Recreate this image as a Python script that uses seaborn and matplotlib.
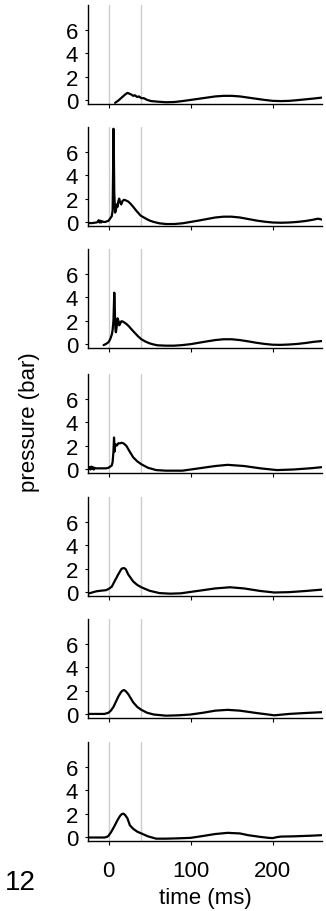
import matplotlib
matplotlib.use("Agg")
import matplotlib.pyplot as plt
import seaborn as sns
import pandas as pd

# ---------------- data ----------------
t1 = [8, 12, 16, 20, 23, 25, 28, 30, 32, 35, 37, 40, 43, 47, 52, 60, 70, 80, 90, 100,
      110, 120, 130, 140, 150, 160, 170, 180, 190, 200, 210, 220, 230, 240, 250, 260]
p1 = [-0.25, -0.05, 0.2, 0.45, 0.6, 0.55, 0.45, 0.35, 0.4, 0.25, 0.3, 0.15, 0.15, 0.0, -0.1, -0.15, -0.2, -0.18, -0.1, 0.0,
      0.1, 0.2, 0.3, 0.35, 0.35, 0.3, 0.2, 0.1, 0.0, -0.08, -0.1, -0.08, -0.02, 0.05, 0.12, 0.2]

t2 = [-25, -20, -15, -13, -12, -11, -10, -9, -8, -6, -4, -2, 0, 2, 4, 5, 5.5, 6, 6.5, 7, 8, 9, 10, 11, 12, 13,
      14, 15.5, 17, 19, 21, 24, 27, 30, 34, 39, 45, 50, 55, 62, 70, 80, 90, 100, 110, 120, 130, 140, 150,
      160, 170, 180, 190, 200, 210, 220, 230, 240, 250, 255, 260]
p2 = [-0.1, -0.1, -0.05, 0.0, 0.15, -0.05, 0.1, -0.05, 0.05, 0.0, 0.0, 0.05, 0.1, 0.3, 0.5, 1.0, 4.0, 8.0, 6.0, 2.5, 0.8, 1.0, 1.5, 1.3, 1.8, 2.0,
      1.7, 1.5, 1.8, 1.9, 1.85, 1.75, 1.55, 1.3, 0.95, 0.55, 0.3, 0.12, 0.0, -0.12, -0.18, -0.18, -0.12, 0.0, 0.12, 0.25, 0.38, 0.45, 0.45,
      0.38, 0.25, 0.12, 0.02, -0.05, -0.07, -0.05, 0.0, 0.08, 0.2, 0.28, 0.2]

t3 = [-6, -3, 0, 2, 4, 5, 6, 6.5, 7, 7.5, 8, 8.5, 9, 10, 11, 12, 13, 14, 15, 16, 18, 20, 22, 25, 28, 32, 36, 40,
      45, 50, 55, 60, 70, 80, 90, 100, 110, 120, 130, 140, 150, 160, 170, 180, 190, 200, 210, 220, 230, 240, 250, 260]
p3 = [-0.1, 0.0, 0.15, 0.4, 0.8, 1.2, 2.0, 3.2, 4.4, 3.5, 2.0, 1.2, 1.0, 1.5, 2.2, 2.0, 1.6, 1.7, 1.9, 1.95, 1.9, 1.8, 1.7, 1.5, 1.25, 0.95, 0.65, 0.4,
      0.2, 0.05, -0.05, -0.12, -0.15, -0.15, -0.1, -0.02, 0.1, 0.22, 0.33, 0.4, 0.4, 0.33, 0.22, 0.1, 0.0, -0.07, -0.08, -0.05, 0.0, 0.08, 0.18, 0.25]

t4 = [-25, -24, -23, -22, -21, -20, -19, -18, -17, -16, -14, -10, -5, -3, 0, 2, 4, 5, 6, 6.7, 7.5, 8, 9, 10, 12, 14, 16, 18, 20, 22, 24,
      27, 30, 35, 40, 48, 58, 70, 90, 105, 130, 145, 165, 185, 205, 225, 245, 260]
p4 = [0.2, 0.0, 0.15, -0.05, 0.2, 0.0, 0.15, -0.05, 0.1, 0.05, 0.05, 0.05, 0.05, 0.05, 0.1, 0.2, 0.3, 0.6, 1.5, 2.7, 1.5, 2.0, 2.1, 2.0, 2.2, 2.2, 2.25, 2.2, 2.1, 1.95, 1.7,
      1.35, 1.0, 0.65, 0.4, 0.1, -0.1, -0.15, -0.15, 0.0, 0.25, 0.35, 0.25, 0.05, -0.1, -0.05, 0.05, 0.15]

t5 = [-25, -20, -15, -10, -3, 0, 4, 8, 10, 11, 13, 16, 19, 21, 24, 27, 30, 35, 40, 50, 62, 75, 88, 100, 115, 130, 148, 165, 185, 202,
      220, 240, 260]
p5 = [-0.15, -0.05, 0.05, 0.1, 0.15, 0.25, 0.45, 1.0, 1.25, 1.4, 1.65, 2.0, 2.05, 1.95, 1.5, 1.2, 0.9, 0.6, 0.4, 0.1, -0.1, -0.15, -0.12, 0.0, 0.15, 0.3, 0.4, 0.3, 0.08, -0.05,
      -0.02, 0.08, 0.2]

t6 = [-25, -15, -5, 0, 3, 6, 9, 12, 15, 17, 19, 21, 24, 27, 30, 35, 40, 47, 55, 70, 85, 100, 115, 130, 145, 160, 180, 202,
      220, 240, 260]
p6 = [0.0, 0.0, 0.0, 0.1, 0.3, 0.6, 1.05, 1.5, 1.85, 2.0, 2.05, 1.95, 1.7, 1.35, 1.0, 0.6, 0.35, 0.1, -0.05, -0.15, -0.12, -0.05, 0.1, 0.28, 0.35, 0.28, 0.08, -0.12,
      0.0, 0.08, 0.15]

t7 = [-25, -15, -5, -2, 0, 3, 7, 11, 14, 16, 18, 20, 23, 26, 30, 35, 40, 48, 58, 70, 85, 100, 115, 130, 145, 160, 170, 185, 195,
      200, 205, 210, 225, 245, 260]
p7 = [-0.05, -0.05, -0.05, 0.0, 0.1, 0.4, 0.9, 1.45, 1.8, 1.95, 2.0, 1.9, 1.6, 1.0, 0.7, 0.45, 0.3, 0.05, -0.15, -0.15, -0.12, -0.08, 0.08, 0.25, 0.35, 0.3, 0.15, 0.0, -0.08,
      -0.1, -0.02, 0.03, 0.05, 0.1, 0.15]

panels = [(t1, p1), (t2, p2), (t3, p3), (t4, p4), (t5, p5), (t6, p6), (t7, p7)]
marker_times = [0, 40]
xticks = [0, 100, 200]
yticks = [0, 2, 4, 6]
panel_number = "12"

# ---------------- style ----------------
sns.set_style("ticks")
plt.rcParams["font.family"] = ["Liberation Sans", "DejaVu Sans"]
plt.rcParams["text.color"] = "black"
plt.rcParams["xtick.color"] = "black"
plt.rcParams["ytick.color"] = "black"
plt.rcParams["axes.labelcolor"] = "black"

W, H = 326, 912
fig = plt.figure(figsize=(W / 100, H / 100), dpi=100)

ax_left, ax_right = 88, 322
bottoms_px = [105, 227, 349, 474, 597, 719, 842]
ax_h = 99

axes = []
for i, (tt, pp) in enumerate(panels):
    bpx = bottoms_px[i]
    ax = fig.add_axes([ax_left / W, 1 - bpx / H, (ax_right - ax_left) / W, ax_h / H])
    axes.append(ax)
    for mt in marker_times:
        ax.axvline(mt, color="#cccccc", lw=1.0, zorder=1)
    df = pd.DataFrame({"time": tt, "pressure": pp})
    sns.lineplot(data=df, x="time", y="pressure", ax=ax, color="black", lw=1.6,
                 estimator=None, sort=False, zorder=3)
    ax.set_xlim(-25, 260)
    ax.set_ylim(-0.35, 8.15)
    ax.set_yticks(yticks)
    ax.set_xticks(xticks)
    for s in ["top", "right"]:
        ax.spines[s].set_visible(False)
    for s in ["left", "bottom"]:
        ax.spines[s].set_linewidth(1.0)
        ax.spines[s].set_color("black")
    ax.tick_params(axis="y", length=2, width=0.8, pad=5, labelsize=16, colors="black")
    ax.tick_params(axis="x", length=3, width=0.8, pad=11, labelsize=16, colors="black")
    ax.set_ylabel("")
    ax.set_xlabel("")
    if i < len(panels) - 1:
        ax.tick_params(axis="x", labelbottom=False)

axes[-1].set_xlabel("time (ms)", fontsize=16, labelpad=4, color="black")
fig.text(30 / W, 1 - 422 / H, "pressure (bar)", rotation=90, fontsize=16,
         ha="center", va="center", color="black")
fig.text(20 / W, 1 - 883 / H, panel_number, fontsize=20, ha="center", va="center",
         color="black")

fig.savefig("out.png", dpi=100)
